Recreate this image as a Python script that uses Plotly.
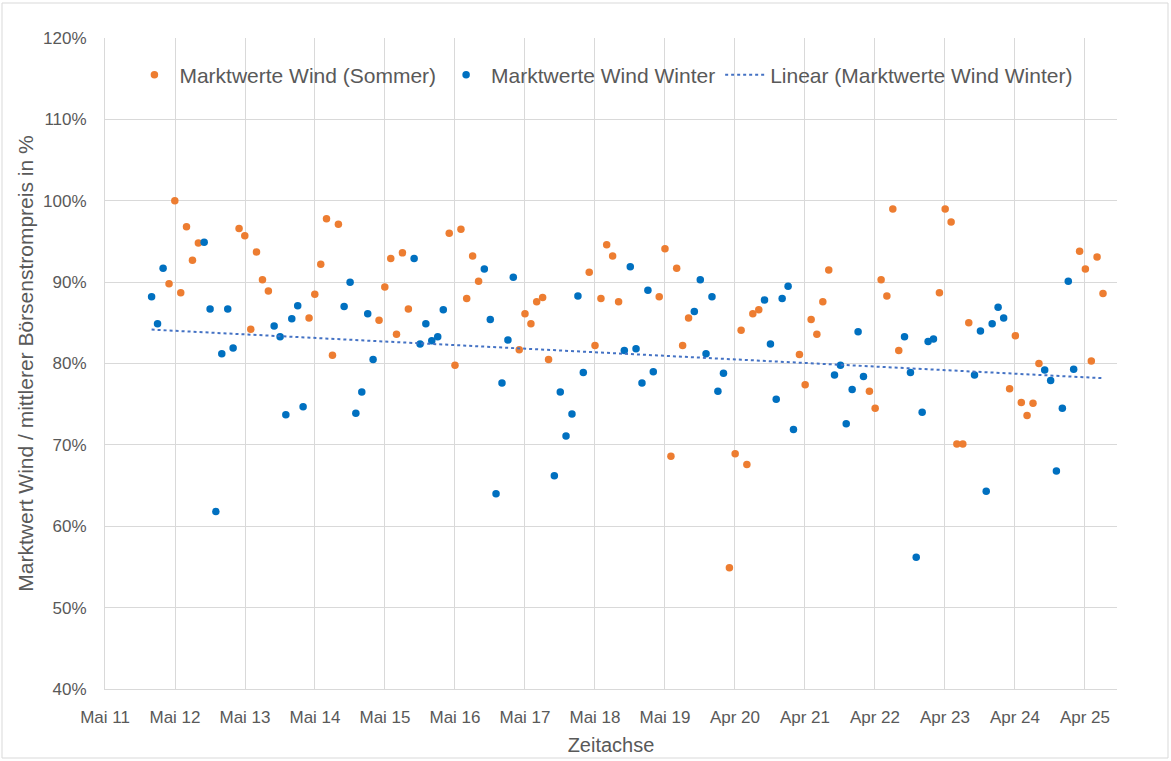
import numpy as np
import pandas as pd
import plotly.graph_objects as go

# ---------------- data ----------------
first_month = "2012-01-01"
last_month = "2025-08-01"
summer_months = [4, 5, 6, 7, 8, 9]
winter_months = [10, 11, 12, 1, 2, 3]

winter_werte = [
    88.2, 84.9, 91.7,
    94.9, 86.7, 61.8, 81.2, 86.7, 81.9,
    84.6, 83.3, 73.7, 85.5, 87.1, 74.7,
    87.0, 90.0, 73.9, 76.5, 86.1, 80.5,
    92.9, 82.4, 84.9, 82.8, 83.3, 86.6,
    91.6, 85.4, 64.0, 77.6, 82.9, 90.6,
    66.2, 76.5, 71.1, 73.8, 88.3, 78.9,
    81.6, 91.9, 81.8, 77.6, 89.0, 79.0,
    86.4, 90.3, 81.2, 88.2, 76.6, 78.8,
    87.8, 82.4, 75.6, 88.0, 89.5, 71.9,
    78.6, 79.8, 72.6, 76.8, 83.9, 78.4,
    83.3, 78.9, 56.2, 74.0, 82.7, 83.0,
    78.6, 84.0, 64.3, 84.9, 86.9, 85.6,
    79.2, 77.9, 66.8, 74.5, 90.1, 79.3,
]

sommer_werte = [
    89.8, 100.0, 88.7, 96.8, 92.7, 94.8,
    96.6, 95.7, 84.2, 93.7, 90.3, 88.9,
    85.6, 88.5, 92.2, 97.8, 81.0, 97.1,
    85.3, 89.4, 92.9, 83.6, 93.6, 86.7,
    96.0, 79.8, 96.5, 88.0, 93.2, 90.1,
    81.7, 86.1, 84.9, 87.6, 88.1, 80.5,
    91.2, 82.2, 88.0, 94.6, 93.2, 87.6,
    88.2, 94.1, 68.6, 91.7, 82.2, 85.6,
    54.9, 68.9, 84.1, 67.6, 86.1, 86.6,
    81.1, 77.4, 85.4, 83.6, 87.6, 91.5,
    76.6, 74.5, 90.3, 88.3, 99.0, 81.6,
    88.7, 99.0, 97.4, 70.1, 70.1, 85.0,
    76.9, 83.4, 75.2, 73.6, 75.1, 80.0,
    93.8, 91.6, 80.3, 93.1, 88.6,
]

tick_labels = ["Mai 11", "Mai 12", "Mai 13", "Mai 14", "Mai 15", "Mai 16",
               "Mai 17", "Mai 18", "Mai 19", "Apr 20", "Apr 21", "Apr 22",
               "Apr 23", "Apr 24", "Apr 25"]
axis_start = "2011-05-03"   # Excel date axis minimum, major unit 365 days
axis_end = "2025-10-13"
major_unit_days = 365

y_ticks = [40, 50, 60, 70, 80, 90, 100, 110, 120]

# ---------------- derived ----------------
months = pd.date_range(first_month, last_month, freq="MS")
sommer_x = [d for d in months if d.month in summer_months]
winter_x = [d for d in months if d.month in winter_months]
assert len(sommer_x) == len(sommer_werte)
assert len(winter_x) == len(winter_werte)

tick_vals = [pd.Timestamp(axis_start) + pd.Timedelta(days=major_unit_days * k)
             for k in range(len(tick_labels))]

# linear trendline of the winter series
t0 = pd.Timestamp(axis_start)
wx_days = np.array([(d - t0).days for d in winter_x], dtype=float)
slope, intercept = np.polyfit(wx_days, np.array(winter_werte), 1)
trend_x = [winter_x[0], months[-1]]
trend_y = [intercept + slope * (d - t0).days for d in trend_x]

ORANGE = "#ED7D31"
BLUE = "#0070C0"
TREND = "#4472C4"
GRID = "#D9D9D9"
TEXT = "#595959"
FONT = "Liberation Sans, Arial, sans-serif"

fig = go.Figure()
fig.add_trace(go.Scatter(
    x=sommer_x, y=sommer_werte, mode="markers",
    name="Marktwerte Wind (Sommer)",
    marker=dict(color=ORANGE, size=7.5, line=dict(width=0))))
fig.add_trace(go.Scatter(
    x=winter_x, y=winter_werte, mode="markers",
    name="Marktwerte Wind Winter",
    marker=dict(color=BLUE, size=7.5, line=dict(width=0))))
fig.add_trace(go.Scatter(
    x=trend_x, y=trend_y, mode="lines",
    name="Linear (Marktwerte Wind Winter)",
    line=dict(color=TREND, width=2, dash="dot")))

fig.update_layout(
    width=1171, height=761,
    margin=dict(l=105, r=54, t=38, b=72, autoexpand=False),
    paper_bgcolor="white", plot_bgcolor="white",
    font=dict(family=FONT, color=TEXT, size=17),
    showlegend=True,
    legend=dict(orientation="h", x=0.4925, xanchor="center", y=0.943,
                yanchor="middle", font=dict(size=21, color=TEXT),
                bgcolor="rgba(0,0,0,0)", itemwidth=40),
    xaxis=dict(
        type="date", range=[axis_start, axis_end], automargin=False,
        tickmode="array", tickvals=tick_vals, ticktext=tick_labels,
        showgrid=True, gridcolor=GRID, gridwidth=1,
        showline=True, linecolor=GRID, linewidth=1,
        zeroline=False, ticks="", ticklabelstandoff=13,
        tickfont=dict(size=17, color=TEXT),
        title=dict(text="Zeitachse", font=dict(size=20, color=TEXT), standoff=11),
    ),
    yaxis=dict(
        range=[40, 120], tickmode="array", tickvals=y_ticks, automargin=False,
        ticktext=[f"{v}%" for v in y_ticks],
        showgrid=True, gridcolor=GRID, gridwidth=1,
        showline=True, linecolor=GRID, linewidth=1,
        zeroline=False, ticks="", ticklabelstandoff=14,
        tickfont=dict(size=17, color=TEXT),
        title=dict(text="Marktwert Wind / mittlerer Börsenstrompreis in %",
                   font=dict(size=21, color=TEXT), standoff=3),
    ),
    shapes=[dict(type="rect", xref="paper", yref="paper",
                 x0=(2 - 105) / 1012, x1=(1168 - 105) / 1012,
                 y0=(689 - 758) / 651, y1=(689 - 3) / 651,
                 line=dict(color=GRID, width=1), fillcolor="rgba(0,0,0,0)",
                 layer="below")],
)

fig.write_html(
    "out.html",
    config={"displayModeBar": False},
    post_script="document.body.style.margin='0';"
                "document.body.style.overflow='hidden';",
)
